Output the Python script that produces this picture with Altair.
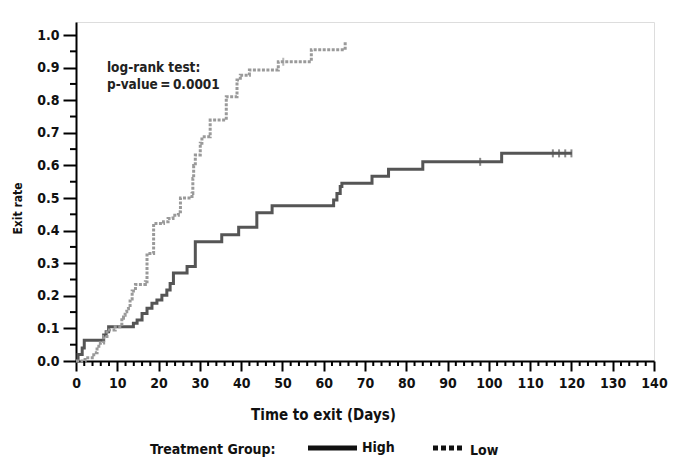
import altair as alt
import pandas as pd

# ---- data ----
high_t = [0, 0.5, 1.5, 2.0, 6.7, 7.3, 7.9, 13.9, 14.8, 16.0, 17.2, 18.4, 19.6, 20.8, 22.0, 22.8,
          23.6, 26.9, 28.9, 35.3, 39.4, 43.8, 47.5, 62.4, 63.2, 64.0, 64.4, 71.7, 75.7, 84.0, 103.1, 120.1]
high_r = [0, 0.02, 0.04, 0.064, 0.08, 0.09, 0.105, 0.116, 0.126, 0.146, 0.162, 0.177, 0.187, 0.202, 0.218, 0.238,
          0.27, 0.29, 0.366, 0.387, 0.41, 0.455, 0.476, 0.494, 0.514, 0.535, 0.545, 0.567, 0.588, 0.611, 0.637, 0.637]

low_t = [0, 2.2, 4.3, 5.1, 5.9, 6.7, 7.5, 9.5, 11.1, 11.5, 11.9, 12.3, 12.7, 13.1, 13.6, 14.4, 16.8, 17.2,
         18.8, 21.2, 22.3, 23.5, 24.8, 25.3, 28.1, 28.3, 28.5, 28.9, 30.1, 30.5, 32.5, 36.4, 39.0, 39.8,
         42.0, 49.0, 57.0, 65.2]
low_r = [0, 0.01, 0.025, 0.045, 0.055, 0.075, 0.095, 0.105, 0.131, 0.14, 0.151, 0.16, 0.17, 0.19, 0.215, 0.235,
         0.243, 0.33, 0.422, 0.427, 0.437, 0.447, 0.458, 0.50, 0.514, 0.56, 0.60, 0.632, 0.668, 0.688, 0.739,
         0.811, 0.862, 0.877, 0.893, 0.918, 0.955, 0.98]

high_cens_t = [97.9, 115.5, 117.0, 118.5, 120.0]
high_cens_r = [0.611, 0.637, 0.637, 0.637, 0.637]
low_cens_t = [50.2]
low_cens_r = [0.918]

groups = ["High", "Low"]
x_major = list(range(0, 141, 10))
x_minor = [v for v in range(0, 141, 2) if v % 10 != 0]
y_major = [round(i * 0.1, 1) for i in range(11)]
y_minor = [round(i * 0.1 + 0.05, 2) for i in range(10)]

annot_t = [7.5, 7.5]
annot_r = [0.899, 0.847]
annot_txt = ["log-rank test:", "p-value\u2009=\u20090.0001"]

legend_title = "Treatment Group:"

FONT = "Liberation Sans Narrow, Arial Narrow, DejaVu Sans Condensed, sans-serif"
HIGH_C, LOW_C = "#555555", "#9a9a9a"
LOW_DASH = [3, 1.5]

W, H = 578, 339

df_high = pd.DataFrame({"t": high_t, "r": high_r})
df_low = pd.DataFrame({"t": low_t, "r": low_r})
cens_high = pd.DataFrame({"t": high_cens_t, "r": high_cens_r})
cens_low = pd.DataFrame({"t": low_cens_t, "r": low_cens_r})

xscale = alt.Scale(domain=[0, 140], nice=False, zero=False)
yscale = alt.Scale(domain=[0, 1.04], nice=False, zero=False)

xaxis = alt.Axis(values=x_major, tickSize=10, tickWidth=2, tickColor="black",
                 domainColor="black", domainWidth=2, grid=False,
                 labelFont=FONT, labelFontSize=14, labelFontWeight="bold", labelColor="#111",
                 labelPadding=5, labelFlush=False, labelOverlap=False,
                 title="Time to exit (Days)", titleFont=FONT, titleFontSize=15, titleFontWeight="bold",
                 titleColor="#111", titleX=247, titleY=46, titleBaseline="top", titleAlign="center")
yaxis = alt.Axis(values=y_major, format=".1f", tickSize=13, tickWidth=2, tickColor="black",
                 domainColor="black", domainWidth=2, grid=False,
                 labelFont=FONT, labelFontSize=14, labelFontWeight="bold", labelColor="#111",
                 labelPadding=4, labelFlush=False,
                 title="Exit rate", titleFont=FONT, titleFontSize=12, titleFontWeight="bold",
                 titleColor="#111", titleX=-59, titleY=186, titleAngle=270,
                 titleAlign="center", titleBaseline="middle")

X = lambda f: alt.X(f, scale=xscale, axis=xaxis)
Y = lambda f: alt.Y(f, scale=yscale, axis=yaxis)

high_line = alt.Chart(df_high).mark_line(
    interpolate="step-after", strokeWidth=3, color=HIGH_C
).encode(x=X("t:Q"), y=Y("r:Q"))

low_line = alt.Chart(df_low).mark_line(
    interpolate="step-after", strokeWidth=3, color=LOW_C, strokeDash=LOW_DASH
).encode(x=X("t:Q"), y=Y("r:Q"))

high_cens = alt.Chart(cens_high).mark_tick(orient="vertical", size=8, thickness=2, color=HIGH_C).encode(
    x=X("t:Q"), y=Y("r:Q"))
low_cens = alt.Chart(cens_low).mark_tick(orient="vertical", size=8, thickness=2, color=LOW_C).encode(
    x=X("t:Q"), y=Y("r:Q"))

ymin = alt.Chart(pd.DataFrame({"r": y_minor})).mark_rule(color="black", strokeWidth=2).encode(
    y=Y("r:Q"), x=alt.value(-6), x2=alt.value(0))
xmin = alt.Chart(pd.DataFrame({"t": x_minor})).mark_rule(color="black", strokeWidth=2).encode(
    x=X("t:Q"), y=alt.value(H), y2=alt.value(H + 5))

annot = alt.Chart(pd.DataFrame({"t": annot_t, "r": annot_r, "label": annot_txt})).mark_text(
    align="left", baseline="middle", font=FONT, fontSize=13.5, fontWeight="bold", color="#222"
).encode(x=X("t:Q"), y=Y("r:Q"), text="label:N")

# ---- legend below the x-axis title (drawn as decoration) ----
leg_font = dict(font=FONT, fontSize=14, fontWeight="bold", color="#111", baseline="middle", align="left")
leg_base = alt.Chart(pd.DataFrame({"d": [0]}))
leg_title = leg_base.mark_text(**leg_font).encode(
    x=alt.value(74), y=alt.value(428), text=alt.value(legend_title))
leg_high_sym = leg_base.mark_rule(color="#111", strokeWidth=5).encode(
    x=alt.value(232), x2=alt.value(281), y=alt.value(426))
leg_high_txt = leg_base.mark_text(**leg_font).encode(
    x=alt.value(286), y=alt.value(426), text=alt.value(groups[0]))
leg_low_sym = leg_base.mark_rule(color="#111", strokeWidth=5, strokeDash=[5, 3]).encode(
    x=alt.value(357), x2=alt.value(386), y=alt.value(426))
leg_low_txt = leg_base.mark_text(**leg_font).encode(
    x=alt.value(394), y=alt.value(429), text=alt.value(groups[1]))

chart = alt.layer(high_line, low_line, high_cens, low_cens, ymin, xmin, annot,
                  leg_title, leg_high_sym, leg_high_txt, leg_low_sym, leg_low_txt).properties(
    width=W, height=H,
    autosize=alt.AutoSizeParams(type="none"),
    padding={"left": 68, "top": 14, "right": 15, "bottom": 99},
).configure_view(strokeWidth=0).configure(background="white")

chart.save("out.html", embed_options={"renderer": "svg", "actions": False})
